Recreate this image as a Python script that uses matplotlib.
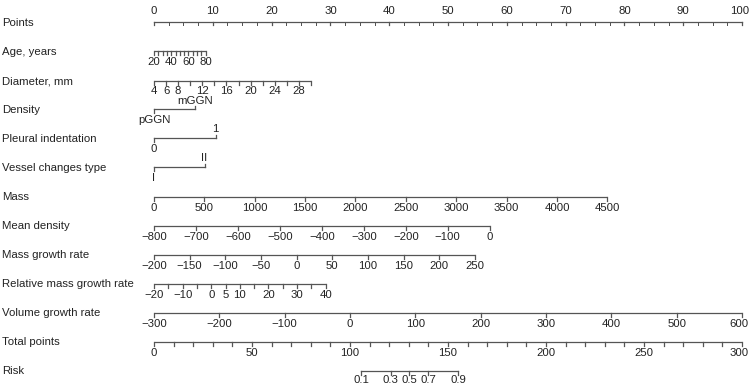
import numpy as np
import matplotlib
matplotlib.use("Agg")
import matplotlib.pyplot as plt

plt.rcParams['font.family'] = ['Liberation Sans', 'DejaVu Sans']

# ---- data ----
row_labels = ["Points", "Age, years", "Diameter, mm", "Density", "Pleural indentation",
              "Vessel changes type", "Mass", "Mean density", "Mass growth rate",
              "Relative mass growth rate", "Volume growth rate", "Total points", "Risk"]

points_major = [0, 10, 20, 30, 40, 50, 60, 70, 80, 90, 100]
points_minor_step = 2.5

age_range = [20, 80];            age_pts = 8.8
age_ticks = [20, 25, 30, 35, 40, 45, 50, 55, 60, 65, 70, 75, 80]
age_labels = [20, 40, 60, 80]

diam_range = [4, 30];            diam_pts = 26.7
diam_ticks = [4, 6, 8, 10, 12, 14, 16, 18, 20, 22, 24, 26, 28, 30]
diam_labels = [4, 6, 8, 12, 16, 20, 24, 28]

density_levels = ["pGGN", "mGGN"];       density_pts = [0, 7.0]
pleural_levels = ["0", "1"];             pleural_pts = [0, 10.5]
vessel_levels = ["I", "II"];             vessel_pts = [0, 8.6]

mass_range = [0, 4500];          mass_pts = 77.1
mass_ticks = [0, 500, 1000, 1500, 2000, 2500, 3000, 3500, 4000, 4500]

mden_range = [-800, 0];          mden_pts = 57.1
mden_ticks = [-800, -700, -600, -500, -400, -300, -200, -100, 0]

mgr_range = [-200, 250];         mgr_pts = 54.6
mgr_ticks = [-200, -150, -100, -50, 0, 50, 100, 150, 200, 250]

rmgr_range = [-20, 40];          rmgr_pts = 29.2
rmgr_ticks = [-20, -15, -10, -5, 0, 5, 10, 15, 20, 25, 30, 35, 40]
rmgr_labels = [-20, -10, 0, 5, 10, 20, 30, 40]

vgr_range = [-300, 600];         vgr_pts = 100
vgr_ticks = [-300, -200, -100, 0, 100, 200, 300, 400, 500, 600]

total_range = [0, 300]
total_ticks = list(range(0, 301, 10))
total_labels = [0, 50, 100, 150, 200, 250, 300]

risk_labels = [0.1, 0.3, 0.5, 0.7, 0.9]
risk_total_points = [105.6, 120.8, 130.3, 140.0, 155.3]

# ---- layout ----
W, H, DPI = 750, 389, 100
px_per_pt = 5.88
x0 = 154
fig = plt.figure(figsize=(W / DPI, H / DPI), dpi=DPI)
ax = fig.add_axes([0, 0, 1, 1])
xmax = (W - x0) / px_per_pt
ax.set_xlim(-x0 / px_per_pt, xmax)
ax.set_ylim(H, 0)
ax.axis('off')

LC = '#555555'
TC = '#222222'
FS = 8.2
LW = 0.9
TICK = 3.5
row_y = [23 + 29 * i for i in range(len(row_labels))]
label_x = -(x0 - 2) / px_per_pt
edge_x = xmax - 1.0 / px_per_pt


def fmt(v):
    s = ('%g' % v)
    return s.replace('-', '\u2212')


def put(x, y, s):
    # keep labels at the right edge inside the picture
    if x >= 99.9:
        ax.text(edge_x, y, s, fontsize=FS, color=TC, ha='right', va='center')
    else:
        ax.text(x, y, s, fontsize=FS, color=TC, ha='center', va='center')


for lab, y in zip(row_labels, row_y):
    ax.text(label_x, y, lab, fontsize=FS, color=TC, ha='left', va='center')


def lin_axis(y, vrange, pmax, ticks, labels=None, off=11):
    vmin, vmax = vrange
    f = lambda v: (v - vmin) / (vmax - vmin) * pmax
    ax.plot([f(vmin), f(vmax)], [y, y], color=LC, lw=LW, solid_capstyle='butt')
    for t in ticks:
        ax.plot([f(t), f(t)], [y, y + TICK], color=LC, lw=LW)
    if labels is None:
        labels = ticks
    for t in labels:
        put(f(t), y + off, fmt(t))


# Points axis (labels above, ticks below)
yp = row_y[0] - 1
ax.plot([0, 100], [yp, yp], color=LC, lw=LW)
for t in np.arange(0, 100.01, points_minor_step):
    ax.plot([t, t], [yp, yp + 3], color=LC, lw=LW * 0.8)
for t in points_major:
    ax.plot([t, t], [yp, yp + 3], color=LC, lw=LW)
    put(t, yp - 11, fmt(t))

lin_axis(row_y[1] - 1, age_range, age_pts, age_ticks, age_labels)
lin_axis(row_y[2], diam_range, diam_pts, diam_ticks, diam_labels, off=10)


def cat_axis(y, levels, pts, up=9):
    ax.plot([pts[0], pts[1]], [y, y], color=LC, lw=LW)
    ax.plot([pts[0], pts[0]], [y, y + TICK], color=LC, lw=LW)
    ax.plot([pts[1], pts[1]], [y, y - TICK], color=LC, lw=LW)
    ax.text(pts[0], y + 11, levels[0], fontsize=FS, color=TC, ha='center', va='center')
    ax.text(pts[1], y - up, levels[1], fontsize=FS, color=TC, ha='center', va='center')


cat_axis(row_y[3] - 1, density_levels, density_pts, up=8)
cat_axis(row_y[4] - 1, pleural_levels, pleural_pts)
cat_axis(row_y[5] - 1, vessel_levels, vessel_pts)

lin_axis(row_y[6], mass_range, mass_pts, mass_ticks)
lin_axis(row_y[7], mden_range, mden_pts, mden_ticks)
lin_axis(row_y[8], mgr_range, mgr_pts, mgr_ticks)
lin_axis(row_y[9], rmgr_range, rmgr_pts, rmgr_ticks, rmgr_labels)
lin_axis(row_y[10], vgr_range, vgr_pts, vgr_ticks)
lin_axis(row_y[11], total_range, 100, total_ticks, total_labels)

# Risk axis
yr = row_y[12]
rx = [p * 100 / total_range[1] for p in risk_total_points]
ax.plot([rx[0], rx[-1]], [yr, yr], color=LC, lw=LW)
for x, r in zip(rx, risk_labels):
    ax.plot([x, x], [yr, yr + TICK], color=LC, lw=LW)
    ax.text(x, yr + 9, fmt(r), fontsize=FS, color=TC, ha='center', va='center')

fig.savefig('out.png', dpi=DPI)
